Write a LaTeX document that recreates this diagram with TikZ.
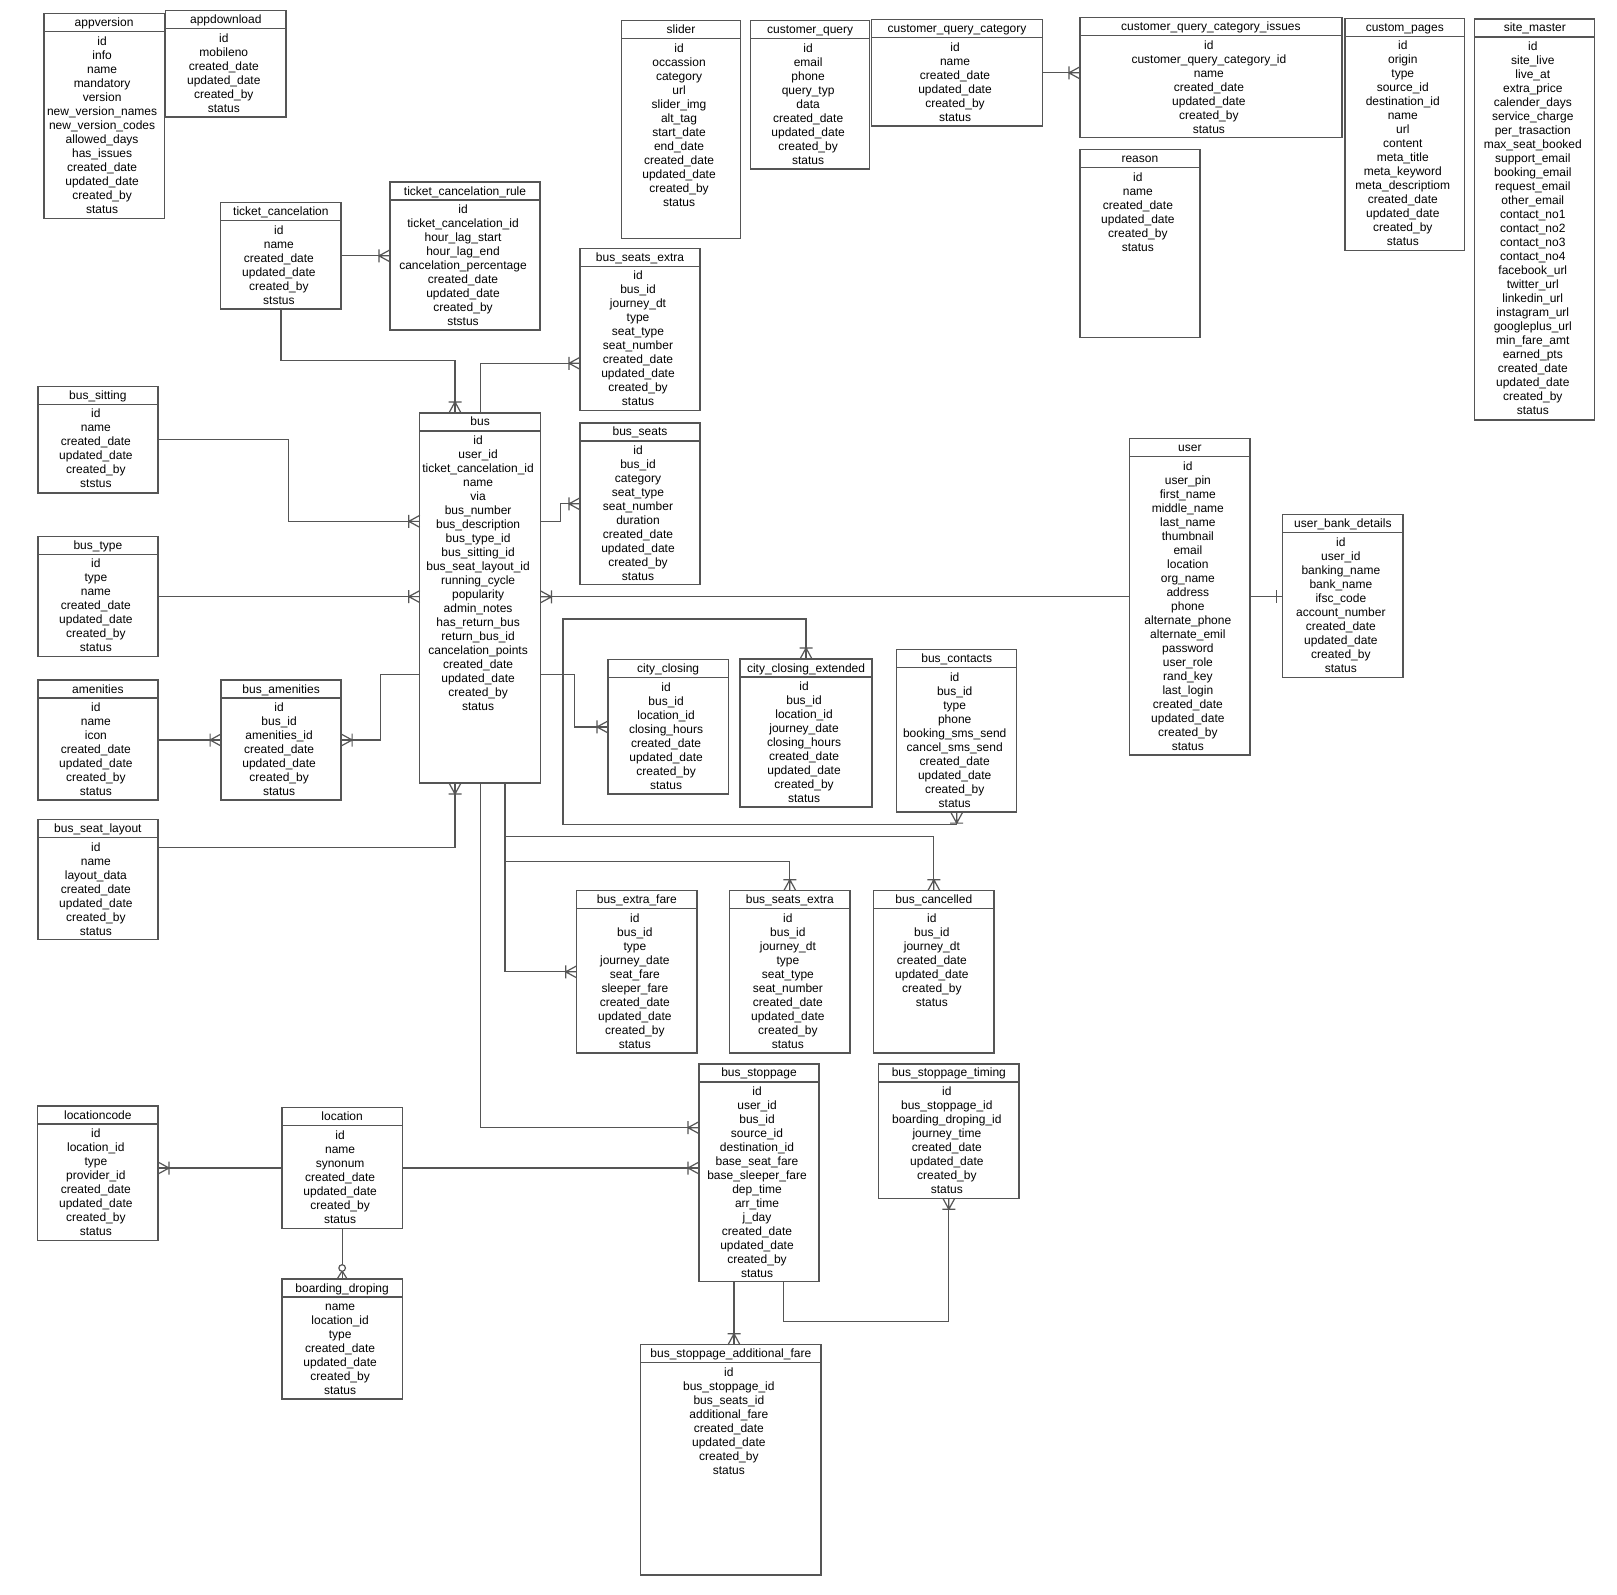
\documentclass[tikz,border=0pt]{standalone}
\usepackage{fontspec}
\setmainfont{Liberation Sans}
\definecolor{linegray}{RGB}{85,85,85}
\newcommand{\erfont}{\fontsize{12}{14}\selectfont}
\tikzset{
  tblbox/.style={draw=linegray, line width=1.3pt, rectangle, inner sep=0pt, outer sep=0pt},
  tblline/.style={draw=linegray, line width=1.3pt},
  ttl/.style={font=\erfont, inner sep=0pt, text height=9pt, text depth=1pt},
  fld/.style={font=\erfont, inner sep=0pt, text height=9pt, text depth=1pt},
  conn/.style={draw=linegray, line width=1.2pt},
}
% name, x1, y1, x2, y2, title, fields
\newcommand{\ertable}[7]{%
  \node[tblbox, minimum width={(#4-#2)*1pt}, minimum height={(#5-#3)*1pt}, anchor=north west] (#1) at (#2,#3) {};
  \draw[tblline] ([yshift=-18pt]#1.north west) -- ([yshift=-18pt]#1.north east);
  \node[ttl] (#1-title) at ([yshift=-9pt]#1.north) {#6};
  \foreach \r [count=\i] in {#7} {
    \node[fld] (#1-f\i) at ([xshift=-2pt,yshift={-27.5pt-14pt*(\i-1)}]#1.north) {\r};
  }%
}
% crow's foot with bar: point on box edge, outward angle
\newcommand{\crow}[2]{%
  \draw[conn, shift={(#1)}, rotate=#2] (0,6) -- (11,0) -- (0,-6) (0,0) -- (11,0) (11,6.5) -- (11,-6.5);
}
\begin{document}
\catcode`\_=12
\begin{tikzpicture}[x=1pt,y=-1pt]
\fill[white] (0,0) rectangle (1617,1595);
\useasboundingbox (0,0) rectangle (1617,1595);

\ertable{av}{44}{13.7}{164.2}{218.3}{appversion}{id,info,name,mandatory,version,new_version_names,new_version_codes,allowed_days,has_issues,created_date,updated_date,created_by,status}
\ertable{ad}{165.7}{10.7}{285.9}{117}{appdownload}{id,mobileno,created_date,updated_date,created_by,status}
\ertable{tc}{220.8}{202.7}{341}{309}{ticket_cancelation}{id,name,created_date,updated_date,created_by,ststus}
\ertable{tcr}{390}{182}{540}{330}{ticket_cancelation_rule}{id,ticket_cancelation_id,hour_lag_start,hour_lag_end,cancelation_percentage,created_date,updated_date,created_by,ststus}
\ertable{sl}{621.4}{20.7}{740.7}{238.7}{slider}{id,occassion,category,url,slider_img,alt_tag,start_date,end_date,created_date,updated_date,created_by,status}
\ertable{cq}{750.5}{20.7}{869.8}{169}{customer_query}{id,email,phone,query_typ,data,created_date,updated_date,created_by,status}
\ertable{cqc}{871.7}{19.7}{1042.3}{126}{customer_query_category}{id,name,created_date,updated_date,created_by,status}
\ertable{cqci}{1079.9}{17.7}{1341.9}{137.7}{customer_query_category_issues}{id,customer_query_category_id,name,created_date,updated_date,created_by,status}
\ertable{rs}{1079.9}{149.7}{1199.9}{337.3}{reason}{id,name,created_date,updated_date,created_by,status}
\ertable{cp}{1345.1}{18.3}{1464.5}{250.7}{custom_pages}{id,origin,type,source_id,destination_id,name,url,content,meta_title,meta_keyword,meta_descriptiom,created_date,updated_date,created_by,status}
\ertable{sm}{1474.8}{19}{1594.8}{420}{site_master}{id,site_live,live_at,extra_price,calender_days,service_charge,per_trasaction,max_seat_booked,support_email,booking_email,request_email,other_email,contact_no1,contact_no2,contact_no3,contact_no4,facebook_url,twitter_url,linkedin_url,instagram_url,googleplus_url,min_fare_amt,earned_pts,created_date,updated_date,created_by,status}
\ertable{bse}{580}{248.4}{700}{410.6}{bus_seats_extra}{id,bus_id,journey_dt,type,seat_type,seat_number,created_date,updated_date,created_by,status}
\ertable{bseats}{580}{422.9}{700}{584.8}{bus_seats}{id,bus_id,category,seat_type,seat_number,duration,created_date,updated_date,created_by,status}
\ertable{bus}{419.8}{412.9}{540.4}{783}{bus}{id,user_id,ticket_cancelation_id,name,via,bus_number,bus_description,bus_type_id,bus_sitting_id,bus_seat_layout_id,running_cycle,popularity,admin_notes,has_return_bus,return_bus_id,cancelation_points,created_date,updated_date,created_by,status}
\ertable{bsit}{37.9}{386.4}{157.9}{492.9}{bus_sitting}{id,name,created_date,updated_date,created_by,ststus}
\ertable{btype}{37.9}{536.4}{157.9}{656.8}{bus_type}{id,type,name,created_date,updated_date,created_by,status}
\ertable{amen}{37.9}{680}{157.9}{800}{amenities}{id,name,icon,created_date,updated_date,created_by,status}
\ertable{bam}{221.1}{680}{341.1}{800}{bus_amenities}{id,bus_id,amenities_id,created_date,updated_date,created_by,status}
\ertable{bsl}{37.9}{819.6}{157.9}{939.4}{bus_seat_layout}{id,name,layout_data,created_date,updated_date,created_by,status}
\ertable{cc}{608}{659.8}{728.2}{794.1}{city_closing}{id,bus_id,location_id,closing_hours,created_date,updated_date,created_by,status}
\ertable{cce}{740}{659}{872.1}{807.1}{city_closing_extended}{id,bus_id,location_id,journey_date,closing_hours,created_date,updated_date,created_by,status}
\ertable{bc}{896.6}{649.8}{1016.8}{812.1}{bus_contacts}{id,bus_id,type,phone,booking_sms_send,cancel_sms_send,created_date,updated_date,created_by,status}
\ertable{user}{1129.7}{438.7}{1250}{755}{user}{id,user_pin,first_name,middle_name,last_name,thumbnail,email,location,org_name,address,phone,alternate_phone,alternate_emil,password,user_role,rand_key,last_login,created_date,updated_date,created_by,status}
\ertable{ubd}{1282.7}{514.7}{1403}{677.3}{user_bank_details}{id,user_id,banking_name,bank_name,ifsc_code,account_number,created_date,updated_date,created_by,status}
\ertable{bef}{576.7}{890.7}{697}{1053}{bus_extra_fare}{id,bus_id,type,journey_date,seat_fare,sleeper_fare,created_date,updated_date,created_by,status}
\ertable{bsex}{729.7}{890.7}{850}{1053}{bus_seats_extra}{id,bus_id,journey_dt,type,seat_type,seat_number,created_date,updated_date,created_by,status}
\ertable{bcan}{873.7}{890.7}{994}{1053}{bus_cancelled}{id,bus_id,journey_dt,created_date,updated_date,created_by,status}
\ertable{bst}{699}{1063.9}{819}{1281.8}{bus_stoppage}{id,user_id,bus_id,source_id,destination_id,base_seat_fare,base_sleeper_fare,dep_time,arr_time,j_day,created_date,updated_date,created_by,status}
\ertable{bstt}{878.7}{1063.9}{1019}{1198.2}{bus_stoppage_timing}{id,bus_stoppage_id,boarding_droping_id,journey_time,created_date,updated_date,created_by,status}
\ertable{bsaf}{640.7}{1344.8}{821}{1574.9}{bus_stoppage_additional_fare}{id,bus_stoppage_id,bus_seats_id,additional_fare,created_date,updated_date,created_by,status}
\ertable{lc}{37.7}{1106}{158}{1240.3}{locationcode}{id,location_id,type,provider_id,created_date,updated_date,created_by,status}
\ertable{loc}{282}{1107.7}{402.3}{1228.3}{location}{id,name,synonum,created_date,updated_date,created_by,status}
\ertable{bd}{282}{1279}{402.3}{1399}{boarding_droping}{name,location_id,type,created_date,updated_date,created_by,status}

% ---- connectors ----
% ticket_cancelation -> ticket_cancelation_rule
\draw[conn] (tc.east) -- (tc.east -| tcr.west);
\crow{tc.east -| tcr.west}{180}
% customer_query_category -> issues
\draw[conn] (cqc.east) -- (cqc.east -| cqci.west);
\crow{cqc.east -| cqci.west}{180}
% ticket_cancelation -> bus
\coordinate (busTL) at ([xshift=35.2pt]bus.north west);
\draw[conn] (tc.south) |- ([yshift=52.2pt]busTL) -- (busTL);
\crow{busTL}{90}
% bus -> bus_seats_extra
\coordinate (bseL) at ([yshift=-33.8pt]bse.west);
\draw[conn] (bus.north) |- (bseL);
\crow{bseL}{180}
% bus -> bus_seats
\draw[conn] ([yshift=76.6pt]bus.east) -- ++(19.7,0) |- (bseats.west);
\crow{bseats.west}{180}
% bus_sitting -> bus
\coordinate (busL1) at ([yshift=76.6pt]bus.west);
\draw[conn] (bsit.east) -- ++(130.7,0) |- (busL1);
\crow{busL1}{180}
% bus_type -> bus
\draw[conn] (btype.east) -- (btype.east -| bus.west);
\crow{btype.east -| bus.west}{180}
% user -> bus
\draw[conn] (user.west) -- (user.west -| bus.east);
\crow{user.west -| bus.east}{0}
% user -> user_bank_details
\coordinate (ubdL) at (user.east -| ubd.west);
\draw[conn] (user.east) -- (ubdL);
\draw[conn] ([xshift=-6pt]ubdL) ++(0,-6.5) -- ++(0,13);
% amenities -> bus_amenities
\draw[conn] (amen.east) -- (bam.west);
\crow{bam.west}{180}
% bus_amenities -> bus
\draw[conn] (bam.east) -- ++(39.3,0) |- ([yshift=-76.6pt]bus.west);
\crow{bam.east}{0}
% bus_seat_layout -> bus
\coordinate (busBL) at ([xshift=35.2pt]bus.south west);
\draw[conn] ([yshift=32pt]bsl.east) -| (busBL);
\crow{busBL}{-90}
% bus -> city_closing / extended / contacts
\coordinate (busR2) at ([yshift=-76.6pt]bus.east);
\draw[conn] (busR2) -- ++(34,0) |- (cc.west);
\crow{cc.west}{180}
\draw[conn] (busR2) -- ++(22.6,0) |- ([yshift=40pt]cce.north) -- (cce.north);
\crow{cce.north}{90}
\draw[conn] (busR2) -- ++(22.6,0) |- ([yshift=-12pt]bc.south) -- (bc.south);
\crow{bc.south}{-90}
% bus -> bus_cancelled / bus_seats_extra / bus_extra_fare
\coordinate (busBR) at ([xshift=-35.4pt]bus.south east);
\draw[conn] (busBR) |- ([yshift=54.3pt]bcan.north) -- (bcan.north);
\crow{bcan.north}{90}
\draw[conn] (busBR) |- ([yshift=28.9pt]bsex.north) -- (bsex.north);
\crow{bsex.north}{90}
\draw[conn] (busBR) |- (bef.west);
\crow{bef.west}{180}
% bus -> bus_stoppage
\coordinate (bstL) at ([yshift=45.2pt]bst.west);
\draw[conn] (bus.south) |- (bstL);
\crow{bstL}{180}
% location -> bus_stoppage
\draw[conn] (loc.east) -- (loc.east -| bst.west);
\crow{loc.east -| bst.west}{180}
% location -> locationcode
\draw[conn] (loc.west) -- (loc.west -| lc.east);
\crow{loc.west -| lc.east}{0}
% location -> boarding_droping (zero or many)
\draw[conn] (loc.south) -- (bd.north);
\draw[conn, shift={(bd.north)}, rotate=90] (0,5) -- (8,0) -- (0,-5);
\draw[conn, fill=white] ([yshift=11pt]bd.north) circle (3.3pt);
% bus_stoppage -> bus_stoppage_timing
\draw[conn] ([xshift=24.7pt]bst.south) -- ++(0,39.7) -| (bstt.south);
\crow{bstt.south}{-90}
% bus_stoppage -> bus_stoppage_additional_fare
\coordinate (bstB) at ([xshift=-25pt]bst.south);
\coordinate (bsafT) at (bstB |- bsaf.north);
\draw[conn] (bstB) -- (bsafT);
\crow{bsafT}{90}
\end{tikzpicture}
\end{document}
